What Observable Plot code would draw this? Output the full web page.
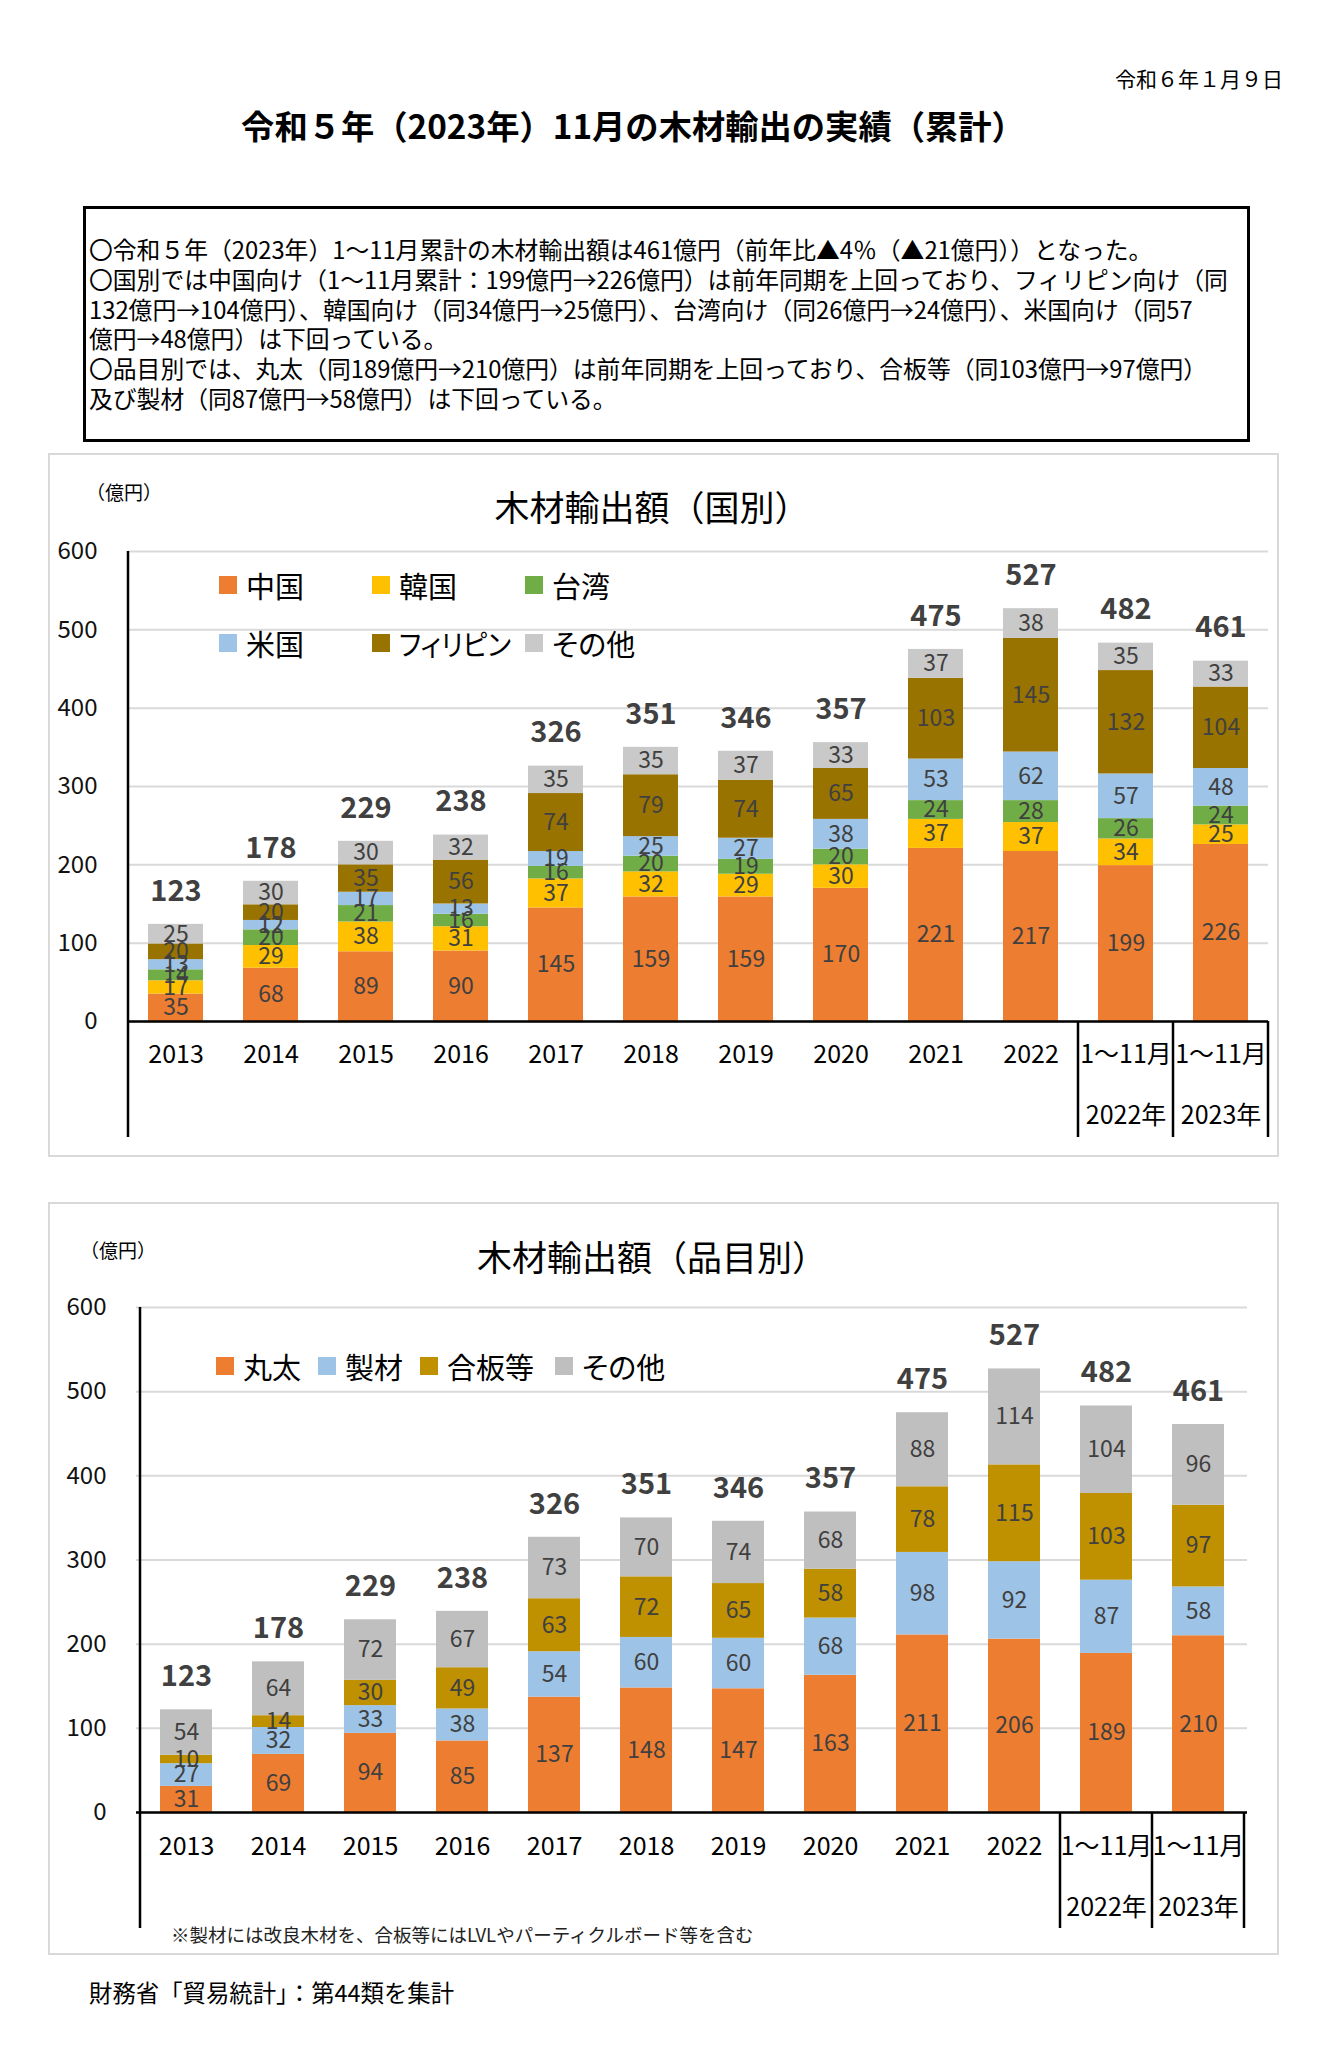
<!DOCTYPE html>
<html><head><meta charset="utf-8">
<script src="https://cdn.jsdelivr.net/npm/d3@7"></script>
<script src="https://cdn.jsdelivr.net/npm/@observablehq/plot@0.6"></script>
<style>
body{margin:0;background:#fff;font-family:"Noto Sans CJK JP","Noto Sans",sans-serif;color:#000;}
#page{position:relative;width:1321px;height:2056px;overflow:hidden;background:#fff;}
.abs{position:absolute;white-space:nowrap;line-height:1.2;}
.frame{position:absolute;box-sizing:border-box;border:2px solid #d9d9d9;}
.box{position:absolute;box-sizing:border-box;border:3px solid #000;}
.sw{position:absolute;width:18px;height:18px;}
.palt{font-feature-settings:"palt";}
svg{position:absolute;overflow:visible;}
</style></head><body><div id="page"></div>
<script>
// ---------- data ----------
const categories = ["2013","2014","2015","2016","2017","2018","2019","2020","2021","2022","1～11月 2022年","1～11月 2023年"];
const catLine1 = ["2013","2014","2015","2016","2017","2018","2019","2020","2021","2022","1～11月","1～11月"];
const catLine2 = ["","","","","","","","","","","2022年","2023年"];
const yTicks = [0,100,200,300,400,500,600];

const countrySeries = ["中国","韓国","台湾","米国","フィリピン","その他"];
const countryColors = ["#ED7D31","#FFC000","#70AD47","#9DC3E6","#997300","#C9C9C9"];
const china       = [35,68,89,90,145,159,159,170,221,217,199,226];
const korea       = [17,29,38,31,37,32,29,30,37,37,34,25];
const taiwan      = [14,20,21,16,16,20,19,20,24,28,26,24];
const usa         = [13,12,17,13,19,25,27,38,53,62,57,48];
const philippines = [20,20,35,56,74,79,74,65,103,145,132,104];
const otherCountry= [25,30,30,32,35,35,37,33,37,38,35,33];
const countryTotals = [123,178,229,238,326,351,346,357,475,527,482,461];

const itemSeries = ["丸太","製材","合板等","その他"];
const itemColors = ["#ED7D31","#9DC3E6","#BF9000","#BFBFBF"];
const logs    = [31,69,94,85,137,148,147,163,211,206,189,210];
const lumber  = [27,32,33,38,54,60,60,68,98,92,87,58];
const plywood = [10,14,30,49,63,72,65,58,78,115,103,97];
const otherItem = [54,64,72,67,73,70,74,68,88,114,104,96];
const itemTotals = [123,178,229,238,326,351,346,357,475,527,482,461];

const dateText = "令和６年１月９日";
const mainTitle = "令和５年（2023年）11月の木材輸出の実績（累計）";
const summaryLines = [
  "〇令和５年（2023年）1～11月累計の木材輸出額は461億円（前年比▲4％（▲21億円））となった。",
  "〇国別では中国向け（1～11月累計：199億円→226億円）は前年同期を上回っており、フィリピン向け（同",
  "132億円→104億円）、韓国向け（同34億円→25億円）、台湾向け（同26億円→24億円）、米国向け（同57",
  "億円→48億円）は下回っている。",
  "〇品目別では、丸太（同189億円→210億円）は前年同期を上回っており、合板等（同103億円→97億円）",
  "及び製材（同87億円→58億円）は下回っている。"
];
const chart1Title = "木材輸出額（国別）";
const chart2Title = "木材輸出額（品目別）";
const unitText = "（億円）";
const footnote = "※製材には改良木材を、合板等にはLVLやパーティクルボード等を含む";
const sourceText = "財務省「貿易統計」：第44類を集計";

// ---------- helpers ----------
const page = document.getElementById("page");
function txt(s, {left, cy, size, weight = 400, color = "#000", center = false, width, cls = ""}) {
  const d = document.createElement("div");
  d.className = "abs " + cls;
  d.textContent = s;
  d.style.fontSize = size + "px";
  d.style.fontWeight = weight;
  d.style.color = color;
  d.style.top = cy + "px";
  d.style.left = left + "px";
  if (center) { d.style.width = width + "px"; d.style.textAlign = "center"; }
  d.style.transform = "translateY(-50%)";
  page.appendChild(d);
  return d;
}
function rect(cls, l, t, w, h, bg) {
  const d = document.createElement("div");
  d.className = cls;
  Object.assign(d.style, {left: l + "px", top: t + "px", width: w + "px", height: h + "px"});
  if (bg) d.style.background = bg;
  page.appendChild(d);
  return d;
}
function legendItem(name, color, swLeft, cy, size, maxW) {
  rect("sw", swLeft, cy - 9, 18, 18, color);
  const d = txt(name, {left: swLeft + 27, cy: cy, size: size, cls: "palt"});
  if (maxW) {
    const w = d.getBoundingClientRect().width;
    if (w > maxW) { d.style.transformOrigin = "left center"; d.style.transform = `translateY(-50%) scaleX(${maxW / w})`; }
  }
}

function buildRows(series, valueArrays) {
  const rows = [];
  categories.forEach((c, i) => {
    series.forEach((s, si) => rows.push({cat: c, series: s, value: valueArrays[si][i]}));
  });
  return rows;
}

function makeChart(o) {
  const rows = buildRows(o.series, o.values);
  const totalRows = categories.map((c, i) => ({
    cat: c, top: d3.sum(o.values, a => a[i]), label: o.totals[i]
  }));
  const idx = d => categories.indexOf(d);
  const chart = Plot.plot({
    width: o.width, height: o.height,
    marginLeft: o.ml, marginRight: o.mr, marginTop: o.mt, marginBottom: o.mb,
    style: {fontFamily: "'Noto Sans CJK JP','Noto Sans',sans-serif", background: "transparent", overflow: "visible"},
    x: {domain: categories, paddingInner: o.pad, paddingOuter: o.pad / 2, align: 0.5, label: null},
    y: {domain: [0, 600], label: null},
    color: {domain: o.series, range: o.colors},
    marks: [
      Plot.gridY(yTicks, {stroke: "#d9d9d9", strokeOpacity: 1, strokeWidth: 2}),
      Plot.axisY(yTicks, {tickSize: 0, tickPadding: o.yPad, fontSize: o.yFont, fill: "#111", tickFormat: d => String(d)}),
      Plot.axisX({tickSize: 0, tickPadding: o.xPad, fontSize: 25, fill: "#000", tickFormat: d => catLine1[idx(d)]}),
      Plot.axisX({tickSize: 0, tickPadding: o.xPad + 61, fontSize: 25, fill: "#000", tickFormat: d => catLine2[idx(d)]}),
      Plot.barY(rows, {x: "cat", y: "value", fill: "series"}),
      Plot.ruleY([0], {stroke: "#000", strokeWidth: 2.5}),
      Plot.text(rows, Plot.stackY({x: "cat", y: "value", z: "series", text: d => String(d.value), fill: "#404040", fontSize: 23})),
      Plot.text(totalRows, {x: "cat", y: "top", text: d => String(d.label), dy: -33, fontSize: 29, fontWeight: "bold", fill: "#404040"})
    ]
  });
  chart.style.left = o.left + "px";
  chart.style.top = o.top + "px";
  page.appendChild(chart);

  // category separators & extended left axis, drawn from the chart's own scales
  const xs = chart.scale("x"), ys = chart.scale("y");
  const n = categories.length;
  const step = xs.step != null ? xs.step : (xs.range[1] - xs.range[0]) / n;
  const bw = xs.bandwidth != null ? xs.bandwidth : step * (1 - o.pad);
  const gap = (step - bw) / 2;
  const bandLeft = c => xs.apply(c) - gap;
  const yTop = ys.apply(600), yBase = ys.apply(0), yLow = yBase + 116;
  const g = d3.select(chart).append("g").attr("stroke", "#000").attr("stroke-width", 2.5);
  g.append("line").attr("x1", bandLeft(categories[0])).attr("x2", bandLeft(categories[0])).attr("y1", yTop).attr("y2", yLow);
  [categories[n - 2], categories[n - 1]].forEach(c => {
    g.append("line").attr("x1", bandLeft(c)).attr("x2", bandLeft(c)).attr("y1", yBase).attr("y2", yLow);
  });
  const rEdge = xs.apply(categories[n - 1]) + bw + gap;
  g.append("line").attr("x1", rEdge).attr("x2", rEdge).attr("y1", yBase).attr("y2", yLow);
  return chart;
}

// ---------- header ----------
txt(dateText, {left: 1115, cy: 79, size: 21});
txt(mainTitle, {left: 200, cy: 125, size: 33.3, weight: 700, center: true, width: 866});
rect("box", 83, 206, 1167, 236);
summaryLines.forEach((s, i) => txt(s, {left: 89, cy: 249 + i * 29.8, size: 23.8}));

// ---------- chart 1 ----------
rect("frame", 48, 453, 1231, 704);
txt(chart1Title, {left: 402, cy: 506, size: 35, center: true, width: 500});
txt(unitText, {left: 86, cy: 492, size: 19});
makeChart({
  series: countrySeries, colors: countryColors,
  values: [china, korea, taiwan, usa, philippines, otherCountry], totals: countryTotals,
  left: 48, top: 453, width: 1231, height: 704, ml: 80, mr: 11, mt: 98, mb: 136,
  pad: 0.42, yPad: 31, yFont: 24, xPad: 24
});
const lg1 = [[219, 585], [372, 585], [525, 585], [219, 643], [372, 643], [525, 643]];
countrySeries.forEach((s, i) => legendItem(s, countryColors[i], lg1[i][0], lg1[i][1], 29, 112));

// ---------- chart 2 ----------
rect("frame", 48, 1202, 1231, 753);
txt(chart2Title, {left: 402, cy: 1256, size: 35, center: true, width: 500});
txt(unitText, {left: 80, cy: 1250, size: 19});
makeChart({
  series: itemSeries, colors: itemColors,
  values: [logs, lumber, plywood, otherItem], totals: itemTotals,
  left: 48, top: 1202, width: 1231, height: 753, ml: 88, mr: 32, mt: 105, mb: 143,
  pad: 0.44, yPad: 30, yFont: 24, xPad: 25
});
const lg2 = [216, 318, 420, 555];
itemSeries.forEach((s, i) => legendItem(s, itemColors[i], lg2[i], 1366, 29));
txt(footnote, {left: 171, cy: 1934, size: 18.5, color: "#222"});

// ---------- source ----------
txt(sourceText, {left: 89, cy: 1992, size: 23.4});
</script></body></html>
